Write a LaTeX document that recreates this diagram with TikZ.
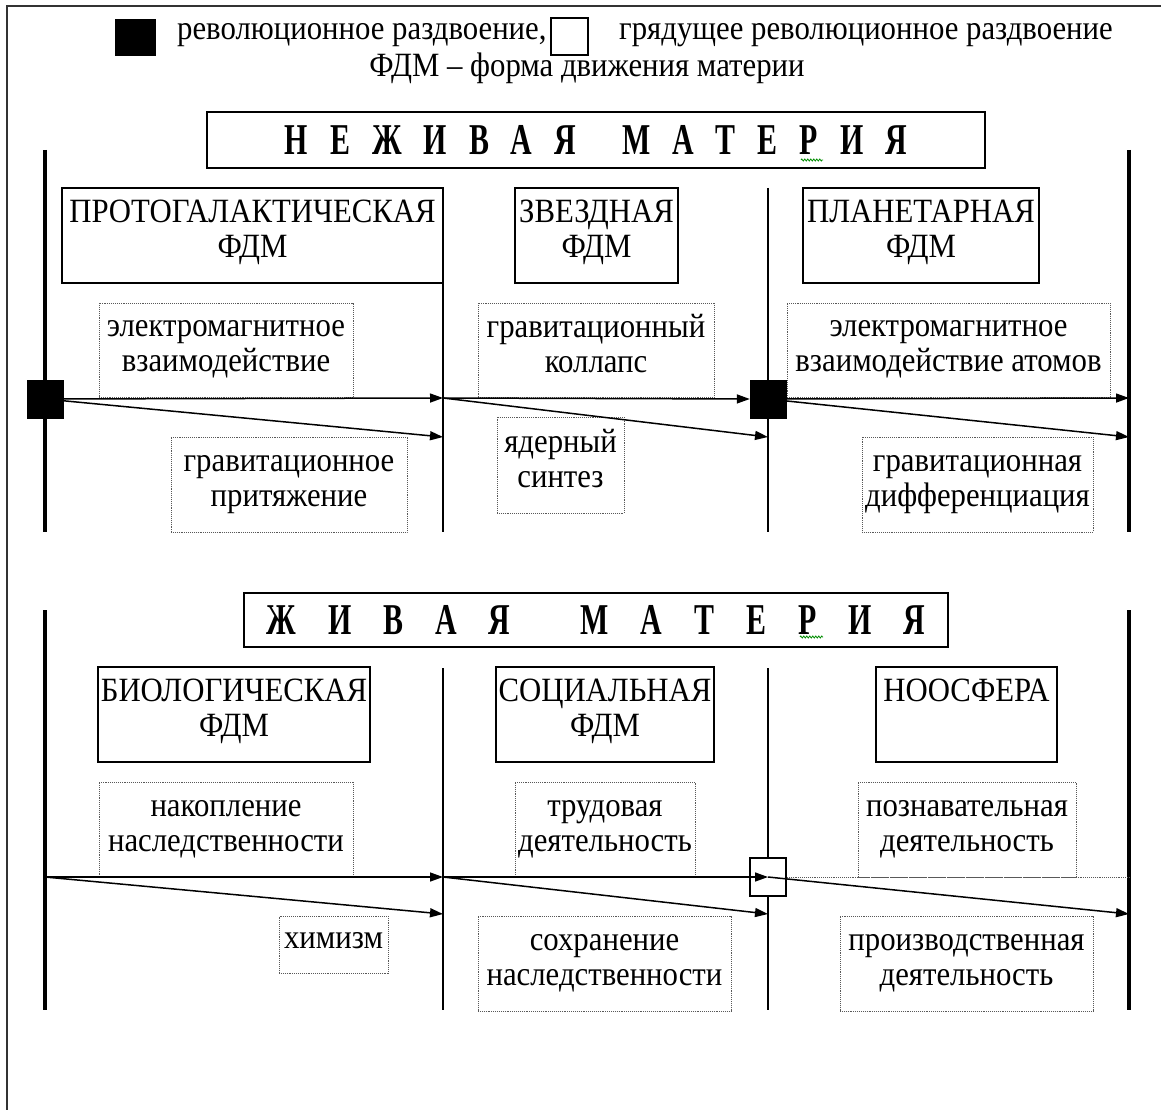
\documentclass[tikz,border=0pt]{standalone}
\usepackage{fontspec}
\setmainfont{Liberation Serif}[FakeStretch=0.905]
\newfontfamily\headfont{Liberation Serif}[FakeStretch=0.68]
\usetikzlibrary{arrows.meta,decorations.pathmorphing}
\newcommand{\hgA}{\hspace{22pt}}
\newcommand{\hgB}{\hspace{32pt}}
\newcommand{\topstrut}{\rule{0pt}{21pt}}
\newcommand{\botstrut}{\rule[-13pt]{0pt}{13pt}}
\newcommand{\twol}[2]{\topstrut #1\\#2\botstrut}
\tikzset{
  fdmbox/.style={draw, line width=1.6pt, align=center, inner sep=0pt},
  dotbox/.style={draw=black!65, densely dotted, line width=0.9pt, align=center, inner sep=0pt},
  headbox/.style={draw, line width=2.6pt, inner sep=0pt, font=\headfont\bfseries\fontsize{44}{48}\selectfont},
  revsq/.style={draw=black, fill=black, inner sep=0pt, minimum width=36pt, minimum height=38pt},
  futsq/.style={draw=black, fill=white, line width=1.8pt, inner sep=0pt, minimum width=36pt, minimum height=38pt},
  flow/.style={line width=1.5pt, -{Triangle[length=13pt,width=9pt]}},
  axisline/.style={line width=4pt},
  divline/.style={line width=1.8pt},
  squiggle/.style={draw=green!55!black, line width=0.8pt, decorate, decoration={zigzag, segment length=3pt, amplitude=1pt}},
}
\begin{document}
\begin{tikzpicture}[x=1pt,y=-1pt,font=\fontsize{34}{35}\selectfont]
\useasboundingbox (0,0) rectangle (1161,1110);
% frame
\draw[line width=1.2pt, black!80] (7,1110) -- (7,6) -- (1161,6);

% legend
\node[revsq, minimum width=40pt, minimum height=36pt] (legrev) at (135,37.5) {};
\node[anchor=base west, inner sep=0pt] (legrevtxt) at (177,40) {революционное раздвоение,};
\node[futsq, minimum width=37pt, minimum height=37pt] (legfut) at (569.5,36.5) {};
\node[anchor=base west, inner sep=0pt] (legfuttxt) at (619,40) {грядущее революционное раздвоение};
\node[anchor=base, inner sep=0pt] (legfdm) at (587,77) {ФДМ – форма движения материи};

% ===== top section =====
\node[headbox, minimum width=778pt, minimum height=56pt] (head1) at (596,140)
  {Н\hgA Е\hgA Ж\hgA И\hgA В\hgA А\hgA Я\hspace{46pt}М\hgA А\hgA Т\hgA Е\hgA Р\hgA И\hgA Я};
\draw[squiggle] (801,160) -- (823,160);

\coordinate (tLtop) at (45,150);  \coordinate (tLbot) at (45,532);
\coordinate (tRtop) at (1129,150); \coordinate (tRbot) at (1129,532);
\coordinate (tD1top) at (443,188); \coordinate (tD1bot) at (443,532);
\coordinate (tD2top) at (768,188); \coordinate (tD2bot) at (768,532);
\draw[axisline] (tLtop) -- (tLbot);
\draw[axisline] (tRtop) -- (tRbot);
\draw[divline] (tD1top) -- (tD1bot);
\draw[divline] (tD2top) -- (tD2bot);

\node[fdmbox, minimum width=381pt, minimum height=95pt] (protogal) at (252.5,235.5) {\twol{ПРОТОГАЛАКТИЧЕСКАЯ}{ФДМ}};
\node[fdmbox, minimum width=163pt, minimum height=95pt] (zvezd) at (596.5,235.5) {\twol{ЗВЕЗДНАЯ}{ФДМ}};
\node[fdmbox, minimum width=236pt, minimum height=95pt] (planet) at (921,235.5) {\twol{ПЛАНЕТАРНАЯ}{ФДМ}};

\node[dotbox, minimum width=254pt, minimum height=94pt] (emint) at (226,350) {\twol{электромагнитное}{взаимодействие}};
\node[dotbox, minimum width=236pt, minimum height=94pt] (gcoll) at (596,350) {\twol{гравитационный}{коллапс}};
\node[dotbox, minimum width=323pt, minimum height=94pt] (ematom) at (948.5,350) {\twol{электромагнитное}{взаимодействие атомов}};
\node[dotbox, minimum width=236pt, minimum height=95pt] (gattr) at (289,484.5) {\twol{гравитационное}{притяжение}};
\node[dotbox, minimum width=127pt, minimum height=96pt] (nucl) at (560.5,465) {\twol{ядерный}{синтез}};
\node[dotbox, minimum width=231pt, minimum height=95pt] (gdiff) at (977.5,484.5) {\twol{гравитационная}{дифференциация}};

\coordinate (t1) at (443,398);  \coordinate (t1d) at (443,437);
\coordinate (t2d) at (768,437);
\coordinate (t3) at (1129,398); \coordinate (t3d) at (1129,437);
\node[revsq] (sq1) at (45,399) {};
\node[revsq] (sq2) at (768,399) {};
\draw[flow] (sq1.center) -- (t1);
\draw[flow] (sq1.center) -- (t1d);
\draw[flow] (t1) -- (sq2.west);
\draw[flow] (t1) -- (t2d);
\draw[flow] (sq2.center) -- (t3);
\draw[flow] (sq2.center) -- (t3d);
\node[revsq] (sq1b) at (45,399) {};
\node[revsq] (sq2b) at (768,399) {};

% ===== bottom section =====
\node[headbox, minimum width=704pt, minimum height=54pt] (head2) at (596,620)
  {Ж\hgB И\hgB В\hgB А\hgB Я\hspace{70pt}М\hgB А\hgB Т\hgB Е\hgB Р\hgB И\hgB Я};
\draw[squiggle] (800,637) -- (823,637);

\coordinate (bLtop) at (45,610);  \coordinate (bLbot) at (45,1010);
\coordinate (bRtop) at (1129,610); \coordinate (bRbot) at (1129,1010);
\coordinate (bD1top) at (443,668); \coordinate (bD1bot) at (443,1010);
\coordinate (bD2top) at (768,668); \coordinate (bD2bot) at (768,1010);
\draw[axisline] (bLtop) -- (bLbot);
\draw[axisline] (bRtop) -- (bRbot);
\draw[divline] (bD1top) -- (bD1bot);
\draw[divline] (bD2top) -- (bD2bot);

\node[fdmbox, minimum width=272pt, minimum height=95pt] (bio) at (234,714.5) {\twol{БИОЛОГИЧЕСКАЯ}{ФДМ}};
\node[fdmbox, minimum width=218pt, minimum height=95pt] (soc) at (605,714.5) {\twol{СОЦИАЛЬНАЯ}{ФДМ}};
\node[fdmbox, minimum width=181pt, minimum height=95pt] (noo) at (966.5,714.5) {\twol{НООСФЕРА}{\mbox{}}};

\node[dotbox, minimum width=254pt, minimum height=95pt] (nakop) at (226,829.5) {\twol{накопление}{наследственности}};
\node[dotbox, minimum width=180pt, minimum height=95pt] (trud) at (605,829.5) {\twol{трудовая}{деятельность}};
\node[dotbox, minimum width=218pt, minimum height=95pt] (pozn) at (967,829.5) {\twol{познавательная}{деятельность}};
\node[dotbox, minimum width=109pt, minimum height=57pt] (himizm) at (333.5,944.5) {\topstrut химизм\botstrut};
\node[dotbox, minimum width=253pt, minimum height=95pt] (sohr) at (604.5,963.5) {\twol{сохранение}{наследственности}};
\node[dotbox, minimum width=253pt, minimum height=95pt] (proizv) at (966.5,963.5) {\twol{производственная}{деятельность}};

\coordinate (b0) at (45,877);
\coordinate (b1) at (443,877); \coordinate (b1d) at (443,914);
\coordinate (b2d) at (768,914);
\coordinate (b3) at (1129,877); \coordinate (b3d) at (1129,914);
\node[futsq] (sq3) at (768,877) {};
\draw[flow] (b0) -- (b1);
\draw[flow] (b0) -- (b1d);
\draw[flow] (b1) -- (sq3.center);
\draw[flow] (b1) -- (b2d);
\draw[flow] (sq3.center) -- (b3d);
\draw[black!65, densely dotted, line width=0.9pt] (sq3.east) -- (b3);
\end{tikzpicture}
\end{document}
